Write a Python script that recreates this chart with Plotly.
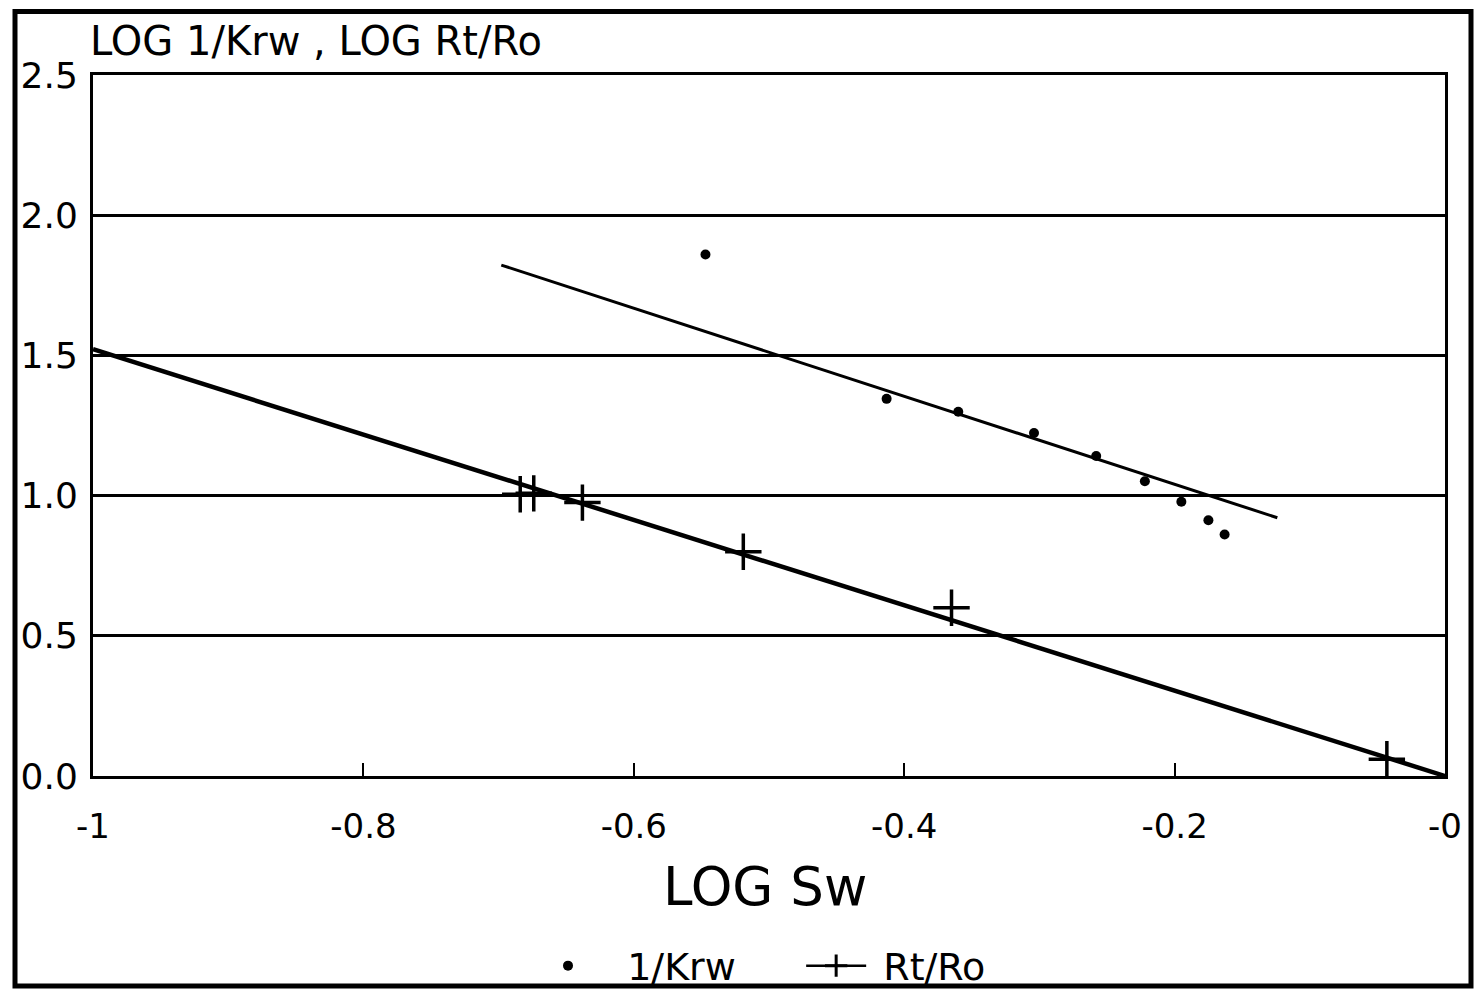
import plotly.graph_objects as go

# ---- data ----
krw_x = [-0.547, -0.413, -0.360, -0.304, -0.258, -0.222, -0.195, -0.175, -0.163]
krw_y = [1.860, 1.345, 1.299, 1.223, 1.141, 1.051, 0.978, 0.912, 0.861]

rtro_x = [-0.684, -0.674, -0.638, -0.519, -0.365, -0.043]
rtro_y = [1.005, 1.008, 0.975, 0.800, 0.600, 0.060]

krw_fit_x = [-0.698, -0.124]
krw_fit_y = [1.822, 0.921]
rtro_fit_x = [-1.0, 0.0]
rtro_fit_y = [1.522, 0.0]

x_tickvals = [-1.0, -0.8, -0.6, -0.4, -0.2, 0.0]
x_ticktext = ["-1", "-0.8", "-0.6", "-0.4", "-0.2", "-0"]
y_tickvals = [0.0, 0.5, 1.0, 1.5, 2.0, 2.5]
y_ticktext = ["0.0", "0.5", "1.0", "1.5", "2.0", "2.5"]

FONT = "DejaVu Sans"
NB = "\u00a0"

fig = go.Figure()

# fitted lines
fig.add_trace(go.Scatter(x=krw_fit_x, y=krw_fit_y, mode="lines",
                         line=dict(color="black", width=3), showlegend=False,
                         hoverinfo="skip"))
fig.add_trace(go.Scatter(x=rtro_fit_x, y=rtro_fit_y, mode="lines",
                         line=dict(color="black", width=4.5), showlegend=False,
                         hoverinfo="skip"))

# data points
fig.add_trace(go.Scatter(x=krw_x, y=krw_y, mode="markers",
                         name=NB * 2 + "1/Krw" + NB * 5,
                         marker=dict(symbol="circle", size=10, color="black")))
fig.add_trace(go.Scatter(x=rtro_x, y=rtro_y, mode="markers", showlegend=False,
                         marker=dict(symbol="cross-thin", size=26,
                                     line=dict(color="black", width=3.5))))
# legend entry for Rt/Ro (line + cross)
fig.add_trace(go.Scatter(x=[None], y=[None], mode="lines+markers",
                         name=NB + "Rt/Ro",
                         line=dict(color="black", width=2.5),
                         marker=dict(symbol="cross-thin", size=24,
                                     line=dict(color="black", width=3))))

# vertical compensation for the capture (observed ~0.983 vertical squeeze)
K = 1.0 / 0.983
W, H = 1476, round(993 * K)
L, T = 93, round(74 * K)
PR, PB = 1445, round(777 * K)
R, B = W - PR, H - PB
pw, ph = PR - L, PB - T

def px2x(p):
    return (p - L) / pw

def py2y(p):
    return (PB - p * K) / ph

fig.update_layout(
    width=W, height=H,
    margin=dict(l=L, r=R, t=T, b=B, pad=0),
    paper_bgcolor="white", plot_bgcolor="white",
    font=dict(family=FONT, color="black", size=32),
    showlegend=True,
    legend=dict(orientation="h", x=px2x(533), y=py2y(967), xanchor="left",
                yanchor="middle", font=dict(size=38, family=FONT),
                bgcolor="rgba(0,0,0,0)", itemwidth=60, traceorder="normal"),
    xaxis=dict(range=[-1, 0], tickvals=x_tickvals, ticktext=x_ticktext,
               showgrid=False, zeroline=False, showline=True, mirror=True,
               linecolor="black", linewidth=3, ticks="inside", ticklen=13,
               tickwidth=2, tickcolor="black", ticklabelstandoff=18,
               tickfont=dict(size=34, family=FONT)),
    yaxis=dict(range=[0, 2.5], tickvals=y_tickvals, ticktext=y_ticktext,
               showgrid=True, gridcolor="black", gridwidth=3, zeroline=False,
               showline=True, mirror=True, linecolor="black", linewidth=3,
               ticks="", ticklabelstandoff=5,
               tickfont=dict(size=36, family=FONT)),
    annotations=[
        dict(text="LOG 1/Krw , LOG Rt/Ro", xref="paper", yref="paper",
             x=px2x(88), y=py2y(40), xanchor="left", yanchor="middle",
             showarrow=False, font=dict(size=40, family=FONT)),
        dict(text="LOG Sw", xref="paper", yref="paper",
             x=px2x(765), y=py2y(887), xanchor="center", yanchor="middle",
             showarrow=False, font=dict(size=53, family=FONT)),
    ],
    shapes=[
        dict(type="rect", xref="paper", yref="paper",
             x0=px2x(15), x1=px2x(1471), y0=py2y(987), y1=py2y(10),
             line=dict(color="black", width=5), fillcolor="rgba(0,0,0,0)",
             layer="above"),
    ],
)

fig.write_html(
    "out.html",
    config={"displayModeBar": False},
    post_script=("document.body.style.margin='0';"
                 "document.body.style.overflow='hidden';"
                 "document.documentElement.style.overflow='hidden';"),
)
